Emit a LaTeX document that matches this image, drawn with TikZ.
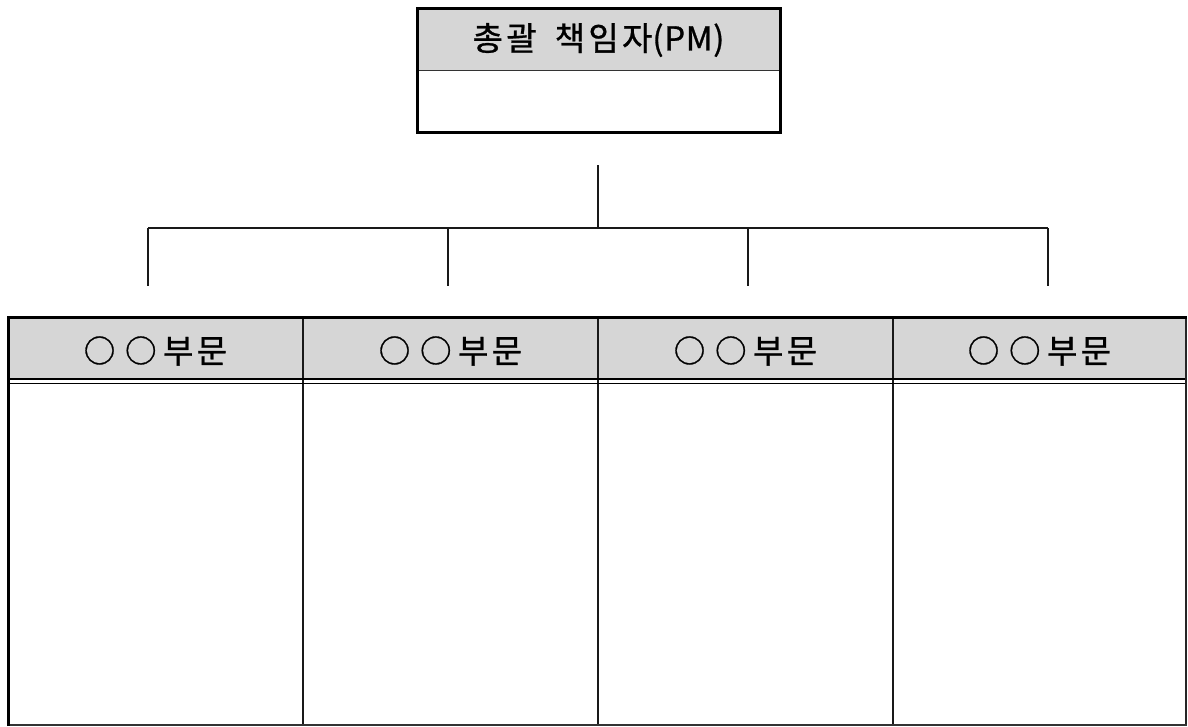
\documentclass[tikz,border=0pt]{standalone}
\usepackage{fontspec}
\newfontfamily\kr[LetterSpace=10,FakeBold=0.9]{Noto Sans CJK KR}
\newfontfamily\krtight[LetterSpace=2,FakeBold=0.9]{Noto Sans CJK KR}
\definecolor{hdr}{RGB}{214,214,214}
\newcommand{\circmark}{\raisebox{0.02em}{\scalebox{0.95}{○}}}
\tikzset{
  conn/.style={line width=1.5pt, draw=black!90},
  titletext/.style={font=\kr\fontsize{33}{36}\selectfont, inner sep=0pt},
  colline/.style={line width=1.4pt, draw=black!90},
  thickframe/.style={line width=3pt, draw=black},
}
\begin{document}
\begin{tikzpicture}[x=1pt,y=-1pt]
\useasboundingbox (0,0) rectangle (1188,726);
% top box
\fill[hdr] (417,8) rectangle (780,70);
\draw[line width=1pt, draw=black!80] (417,70) -- (780,70);
\node[thickframe, rectangle, minimum width=363pt, minimum height=124pt, inner sep=0pt] (pmbox) at (598.5,70) {};
\node[titletext] (pm) at (598.5,40) {총괄\hspace{0.55em}책임자{\krtight(PM)}};
% connectors
\coordinate (top) at (598,165);
\coordinate (bar) at (598,228);
\coordinate (b1) at (148,228);
\coordinate (b2) at (448,228);
\coordinate (b3) at (748,228);
\coordinate (b4) at (1048,228);
\coordinate (e1) at (148,286);
\coordinate (e2) at (448,286);
\coordinate (e3) at (748,286);
\coordinate (e4) at (1048,286);
\draw[conn] (top) -- (bar);
\draw[conn] (b1) -- (b4);
\draw[conn] (b1) -- (e1);
\draw[conn] (b2) -- (e2);
\draw[conn] (b3) -- (e3);
\draw[conn] (b4) -- (e4);
% table
\fill[hdr] (8,317) rectangle (1186,379);
\draw[colline] (303,317) -- (303,726);
\draw[colline] (598,317) -- (598,726);
\draw[colline] (893,317) -- (893,726);
\draw[line width=1.3pt] (8,379) -- (1186,379);
\draw[line width=1.3pt] (8,383.5) -- (1186,383.5);
\draw[line width=2pt, draw=black!85] (1186,317) -- (1186,726);
\draw[line width=2pt, draw=black!80] (8,725) -- (1187,725);
\draw[thickframe] (8.5,726) -- (8.5,317.5) -- (1187,317.5);
\node[titletext] (d1) at (155.5,351) {\circmark\hspace{0.3em}\circmark\hspace{0.2em}부문};
\node[titletext] (d2) at (450.5,351) {\circmark\hspace{0.3em}\circmark\hspace{0.2em}부문};
\node[titletext] (d3) at (745.5,351) {\circmark\hspace{0.3em}\circmark\hspace{0.2em}부문};
\node[titletext] (d4) at (1039.5,351) {\circmark\hspace{0.3em}\circmark\hspace{0.2em}부문};
\end{tikzpicture}
\end{document}
